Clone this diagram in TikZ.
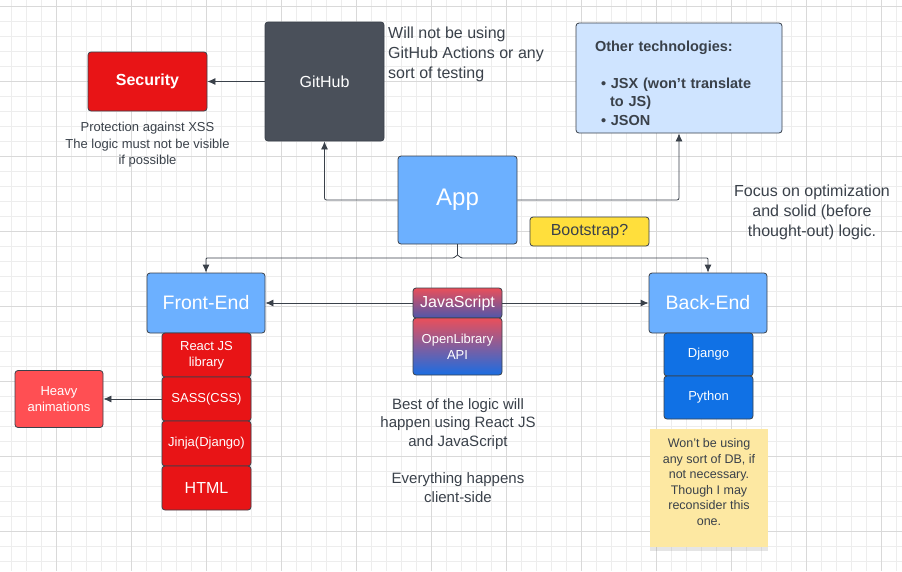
\documentclass[tikz,border=0pt]{standalone}
\usepackage{fontspec}
\setmainfont{Liberation Sans}
\usetikzlibrary{shadows,arrows.meta}
\definecolor{ink}{HTML}{3A414A}
\definecolor{redbox}{HTML}{E81416}
\definecolor{lightred}{HTML}{FF4F53}
\definecolor{ghdark}{HTML}{4A505A}
\definecolor{appblue}{HTML}{6CB0FF}
\definecolor{deepblue}{HTML}{1071E5}
\definecolor{paleblue}{HTML}{CFE4FF}
\definecolor{yellowbox}{HTML}{FFDF3C}
\definecolor{sticky}{HTML}{FDE8A2}
\definecolor{jsred}{HTML}{EA4F5A}
\definecolor{jspurple}{HTML}{4E57AC}
\definecolor{apiblue}{HTML}{1A6DE2}
\definecolor{gridminor}{HTML}{EDEDED}
\definecolor{gridmajor}{HTML}{D9D9D9}

\begin{document}
\begin{tikzpicture}[x=1pt,y=-1pt,
  box/.style={draw=ink,line width=0.8pt,rounded corners=3pt,inner sep=0pt,align=center,text=white},
  txt/.style 2 args={font=\fontsize{#1}{#2}\selectfont},
  note/.style={text=ink,inner sep=0pt,align=center},
  arr/.style={-{Latex[length=8pt,width=7pt]},draw=ink,line width=0.8pt}]
  \useasboundingbox (0,0) rectangle (902,571);
  \fill[white] (0,0) rectangle (902,571);
  \foreach \gx in {11,26,...,896} \draw[gridminor,line width=0.8pt] (\gx,0) -- (\gx,571);
  \foreach \gy in {6,21,...,566} \draw[gridminor,line width=0.8pt] (0,\gy) -- (902,\gy);
  \foreach \gx in {56,131,...,881} \draw[gridmajor,line width=1pt] (\gx,0) -- (\gx,571);
  \foreach \gy in {6,81,...,531} \draw[gridmajor,line width=1pt] (0,\gy) -- (902,\gy);

  \node[box,fill=redbox,minimum width=119pt,minimum height=59pt,font=\fontsize{16}{19}\selectfont\bfseries] (security) at (147.5,81.5) {Security};
  \node[note,txt={13}{16.5}] (securitynote) at (147.5,145) {Protection against XSS\\The logic must not be visible\\if possible};
  \node[box,fill=ghdark,minimum size=119pt,txt={16}{19}] (github) at (324.5,81.5) {GitHub};
  \node[note,txt={16}{20},align=left,anchor=west] (githubnote) at (388,54) {Will not be using\\GitHub Actions or any\\sort of testing};
  \node[box,fill=paleblue,minimum width=206pt,minimum height=110pt] (other) at (679,78) {};
  \node[note,text width=168pt,align=left,font=\fontsize{14.5}{18.5}\selectfont\bfseries] (othertext) at (679,83) {Other technologies:\\[18.5pt]\hspace*{6pt}• JSX (won{\char"0027}t translate\\\hspace*{15pt}to JS)\\\hspace*{6pt}• JSON};

  \node[box,fill=appblue,minimum width=119pt,minimum height=88pt,txt={24}{28}] (app) at (457.5,200) {App};
  \node[box,fill=yellowbox,text=ink,minimum width=119pt,minimum height=29pt,txt={16}{19}] (bootstrap) at (589.5,231.5) {Bootstrap?};
  \node[note,txt={16}{20}] (focus) at (812,212) {Focus on optimization\\and solid (before\\thought-out) logic.};

  \node[box,fill=appblue,minimum width=118pt,minimum height=60pt,txt={19.5}{23}] (front) at (206,303) {Front-End};
  \node[box,fill=appblue,minimum width=118pt,minimum height=60pt,txt={19.5}{23}] (back) at (708,303) {Back-End};
  \node[box,top color=jsred,bottom color=jspurple,minimum width=89pt,minimum height=30pt,txt={16}{19}] (js) at (457.5,303) {JavaScript};
  \node[box,top color=jsred,bottom color=apiblue,minimum width=89pt,minimum height=57pt,txt={13}{16}] (api) at (457.5,346.5) {OpenLibrary\\API};

  \node[box,fill=redbox,minimum width=89pt,minimum height=44pt,txt={13}{16}] (react) at (206.5,355) {React JS\\library};
  \node[box,fill=redbox,minimum width=89pt,minimum height=44pt,txt={13}{16}] (sass) at (206.5,399) {SASS(CSS)};
  \node[box,fill=redbox,minimum width=89pt,minimum height=45pt,txt={13}{16}] (jinja) at (206.5,443.5) {Jinja(Django)};
  \node[box,fill=redbox,minimum width=89pt,minimum height=44pt,txt={16}{19}] (html) at (206.5,488) {HTML};
  \node[box,fill=lightred,minimum width=88pt,minimum height=57pt,txt={13}{16.5}] (heavy) at (59,399) {Heavy\\animations};

  \node[box,fill=deepblue,minimum width=89pt,minimum height=43pt,txt={13}{16}] (django) at (708.5,354.5) {Django};
  \node[box,fill=deepblue,minimum width=89pt,minimum height=43pt,txt={13}{16}] (python) at (708.5,397.5) {Python};
  \node[fill=sticky,minimum size=118pt,inner sep=0pt,drop shadow={shadow xshift=0pt,shadow yshift=-4pt,opacity=0.2}] (sticky) at (709,488) {};
  \node[note,txt={12.5}{15.6}] (stickytext) at ([yshift=6pt]sticky.center) {Won{\char"0027}t be using\\any sort of DB, if\\not necessary.\\Though I may\\reconsider this\\one.};

  \node[note,txt={15}{18.6}] (middle) at (458,450.5) {Best of the logic will\\happen using React JS\\and JavaScript\\[18.6pt]Everything happens\\client-side};

  \coordinate (split) at (457.5,258);
  \draw[arr] (github) -- (security);
  \draw[arr,rounded corners=2pt] (app.west) -| (github.south);
  \draw[arr,rounded corners=2pt] (app.east) -| (other.south);
  \draw[ink,line width=0.8pt] (app.south) -- ([yshift=3pt]split);
  \draw[arr,rounded corners=1pt] ([yshift=3pt]split) -- ([xshift=-4pt]split) -| (front.north);
  \draw[arr,rounded corners=1pt] ([yshift=3pt]split) -- ([xshift=4pt]split) -| (back.north);
  \draw[arr] (js) -- (front);
  \draw[arr] (js) -- (back);
  \draw[arr] (sass) -- (heavy);
\end{tikzpicture}
\end{document}
